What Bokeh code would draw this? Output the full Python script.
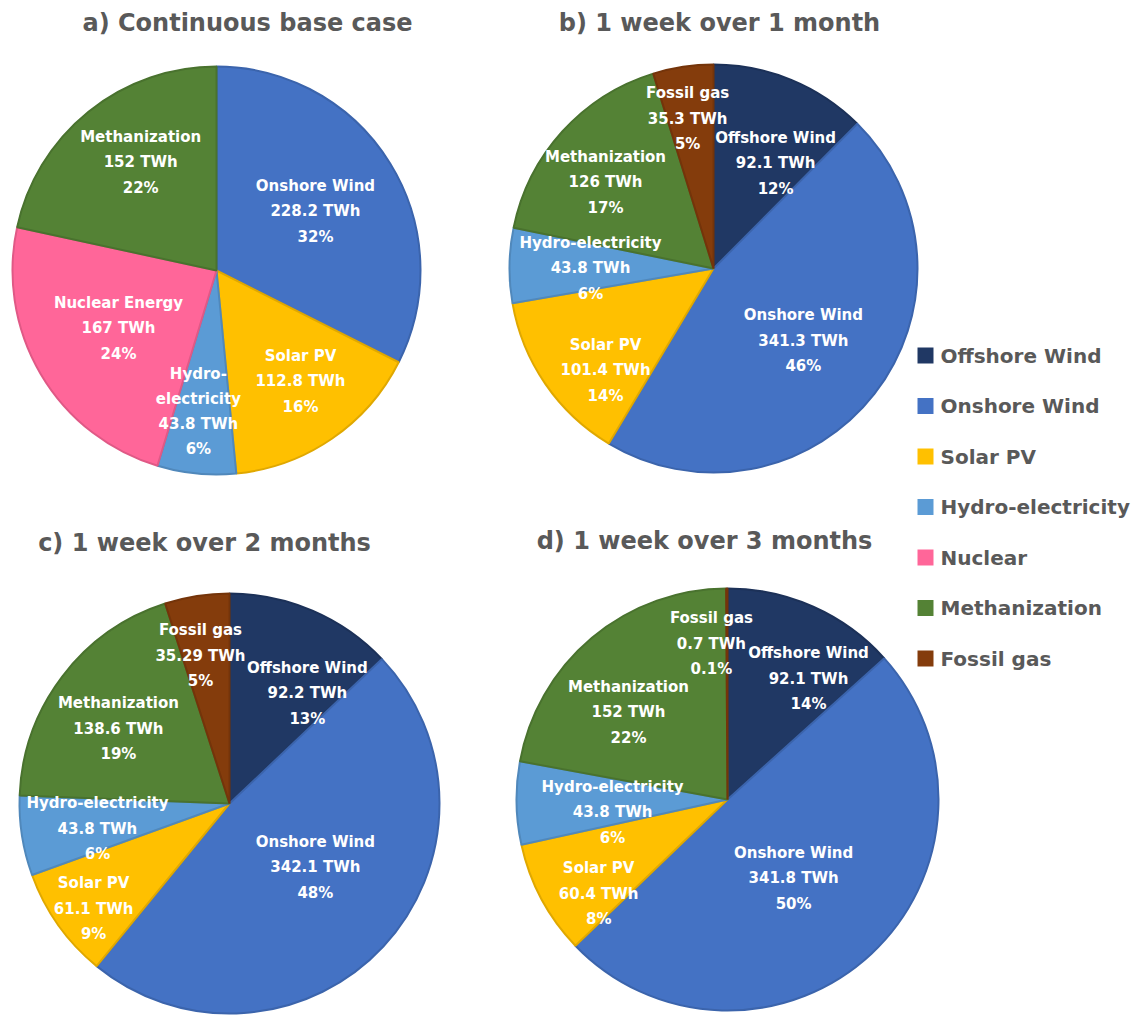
import math
from bokeh.plotting import figure
from bokeh.models import ColumnDataSource, Range1d
from bokeh.core.properties import value
from bokeh.embed import file_html
from bokeh.resources import INLINE

# ---------------- data ----------------
categories = ["Offshore Wind", "Onshore Wind", "Solar PV", "Hydro-electricity",
              "Nuclear", "Methanization", "Fossil gas"]

titles = ["a) Continuous base case", "b) 1 week over 1 month",
          "c) 1 week over 2 months", "d) 1 week over 3 months"]

a_sources = ["Onshore Wind", "Solar PV", "Hydro-electricity", "Nuclear", "Methanization"]
a_names = ["Onshore Wind", "Solar PV", "Hydro-\nelectricity", "Nuclear Energy", "Methanization"]
a_twh = [228.2, 112.8, 43.8, 167, 152]
a_pct = ["32%", "16%", "6%", "24%", "22%"]

bcd_sources = ["Offshore Wind", "Onshore Wind", "Solar PV", "Hydro-electricity",
               "Methanization", "Fossil gas"]
bcd_names = ["Offshore Wind", "Onshore Wind", "Solar PV", "Hydro-electricity",
             "Methanization", "Fossil gas"]

b_twh = [92.1, 341.3, 101.4, 43.8, 126, 35.3]
b_pct = ["12%", "46%", "14%", "6%", "17%", "5%"]

c_twh = [92.2, 342.1, 61.1, 43.8, 138.6, 35.29]
c_pct = ["13%", "48%", "9%", "6%", "19%", "5%"]

d_twh = [92.1, 341.8, 60.4, 43.8, 152, 0.7]
d_pct = ["14%", "50%", "8%", "6%", "22%", "0.1%"]

# ---------------- styles ----------------
colors = {
    "Offshore Wind": "#203864",
    "Onshore Wind": "#4472C4",
    "Solar PV": "#FFC000",
    "Hydro-electricity": "#5B9BD5",
    "Nuclear": "#FF6699",
    "Methanization": "#548235",
    "Fossil gas": "#843C0C",
}


def darker(hexc, k=0.88):
    h = hexc.lstrip("#")
    r, g, b = (int(h[i:i + 2], 16) for i in (0, 2, 4))
    return "#%02x%02x%02x" % (int(r * k), int(g * k), int(b * k))


W, H = 1142, 1015


def px(X):
    return X


def py(Y):
    return H - Y


TEXT_GREY = "#595959"
FONT = "DejaVu Sans"

# layout of each pie: (page centre x, page centre y, radius px,
#                      label radial fractions, label angle tweaks in deg)
pies = [
    dict(title=titles[0], sources=a_sources, names=a_names, twh=a_twh, pct=a_pct,
         cx=216, cy=270, r=204, title_xy=(247, 22),
         frac=[0.565, 0.682, 0.697, 0.558, 0.647], dth=[0.8, -2.7, 1.7, -0.1, 3.8]),
    dict(title=titles[1], sources=bcd_sources, names=bcd_names, twh=b_twh, pct=b_pct,
         cx=713, cy=268, r=204, title_xy=(719, 22),
         frac=[0.598, 0.565, 0.728, 0.603, 0.677, 0.746], dth=[8.2, 0.9, -8.9, -0.8, -3.6, -1.2]),
    dict(title=titles[2], sources=bcd_sources, names=bcd_names, twh=c_twh, pct=c_pct,
         cx=229, cy=803, r=210, title_xy=(204, 542),
         frac=[0.642, 0.510, 0.818, 0.640, 0.638, 0.718], dth=[12, -6.2, -2.4, -1.9, -3.2, -2.2]),
    dict(title=titles[3], sources=bcd_sources, names=bcd_names, twh=d_twh, pct=d_pct,
         cx=727, cy=799, r=211, title_xy=(704, 540),
         frac=[0.690, 0.488, 0.756, 0.548, 0.625, 0.743], dth=[9.8, 3.0, -8.0, -5.4, -8.7, -5.7]),
]

p = figure(width=W, height=H, x_range=Range1d(0, W), y_range=Range1d(0, H),
           output_backend="svg", toolbar_location=None, min_border=0,
           x_axis_type=None, y_axis_type=None)
p.grid.visible = False
p.outline_line_color = None
p.background_fill_color = "white"
p.border_fill_color = "white"

for pie in pies:
    vals = pie["twh"]
    total = float(sum(vals))
    starts, ends, mids = [], [], []
    cum = 0.0
    for v in vals:
        f0 = cum / total
        cum += v
        f1 = cum / total
        starts.append(math.pi / 2 - 2 * math.pi * f0)
        ends.append(math.pi / 2 - 2 * math.pi * f1)
        mids.append(360.0 * (f0 + f1) / 2)
    fills = [colors[s] for s in pie["sources"]]
    src = ColumnDataSource(dict(
        x=[px(pie["cx"])] * len(vals), y=[py(pie["cy"])] * len(vals),
        start=starts, end=ends, fill=fills, line=[darker(c) for c in fills],
    ))
    p.wedge(x="x", y="y", radius=pie["r"], start_angle="start", end_angle="end",
            direction="clock", fill_color="fill", line_color="line", line_width=2,
            source=src)

    # labels
    lx, ly, lt = [], [], []
    for i, v in enumerate(vals):
        th = math.radians(mids[i] + pie["dth"][i])
        d = pie["frac"][i] * pie["r"]
        X = pie["cx"] + d * math.sin(th)
        Y = pie["cy"] - d * math.cos(th)
        lx.append(px(X))
        ly.append(py(Y))
        lt.append(f"{pie['names'][i]}\n{v:g} TWh\n{pie['pct'][i]}")
    p.text(x=lx, y=ly, text=lt, text_color="white", text_font=value(FONT),
           text_font_style="bold", text_font_size="15px", text_align="center",
           text_baseline="middle", text_line_height=1.4)

    # title
    tx, ty = pie["title_xy"]
    p.text(x=[px(tx)], y=[py(ty)], text=[pie["title"]], text_color=TEXT_GREY,
           text_font=value(FONT), text_font_style="bold", text_font_size="24px",
           text_align="center", text_baseline="middle")

# legend
leg_x0, leg_y0, leg_dy, sq = 925, 355, 50.5, 16
lgx = [px(leg_x0)] * len(categories)
lgy = [py(leg_y0 + i * leg_dy) for i in range(len(categories))]
p.rect(x=lgx, y=lgy, width=sq, height=sq, fill_color=[colors[c] for c in categories],
       line_color=None)
p.text(x=[px(leg_x0 + 15)] * len(categories), y=lgy, text=categories, text_color=TEXT_GREY,
       text_font=value(FONT), text_font_style="bold", text_font_size="20px",
       text_align="left", text_baseline="middle")

open("out.html", "w").write(file_html(p, INLINE))
